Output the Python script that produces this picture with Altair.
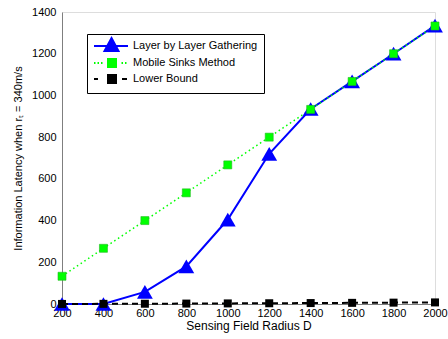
import altair as alt
import pandas as pd

D = [200, 400, 600, 800, 1000, 1200, 1400, 1600, 1800, 2000]
layer = [0, 0, 58, 180, 405, 720, 935, 1067, 1200, 1335]
mobile = [133, 267, 400, 533, 667, 800, 933, 1067, 1200, 1333]
lower = [0.3, 0.7, 1.3, 2.0, 2.8, 3.6, 4.5, 5.5, 6.5, 7.6]

names = ["Layer by Layer Gathering", "Mobile Sinks Method", "Lower Bound"]
colors = ["#0000ff", "#00ff00", "#000000"]

rows = []
for n, vals in zip(names, [layer, mobile, lower]):
    for d, v in zip(D, vals):
        rows.append({"D": d, "value": v, "series": n})
df = pd.DataFrame(rows)

FONT = "Liberation Sans"

xenc = alt.X("D:Q", scale=alt.Scale(domain=[200, 2000], nice=False),
             axis=alt.Axis(title="Sensing Field Radius D", values=D, format="d",
                           grid=False, tickSize=0, labelPadding=3, titlePadding=2,
                           labelFlush=False, labelBound=False, labelOverlap=False,
                           domainColor="#7f7f7f", labelFontSize=11, titleFontSize=12,
                           labelFont=FONT, titleFont=FONT, titleFontWeight="normal",
                           labelColor="#000", titleColor="#000"))
yenc = alt.Y("value:Q", scale=alt.Scale(domain=[0, 1400], nice=False),
             axis=alt.Axis(title="Information Latency when r\u209c = 340m/s",
                           values=[0, 200, 400, 600, 800, 1000, 1200, 1400], format="d",
                           grid=False, tickSize=0, labelPadding=6, titlePadding=8,
                           labelFlush=False, labelBound=False, labelOverlap=False,
                           domainColor="#7f7f7f", labelFontSize=11, titleFontSize=11,
                           labelFont=FONT, titleFont=FONT, titleFontWeight="normal",
                           labelColor="#000", titleColor="#000"))

base = alt.Chart(df)

def sel(n):
    return base.transform_filter(alt.datum.series == n)

l_line = sel(names[0]).mark_line(color=colors[0], strokeWidth=2).encode(x=xenc, y=yenc)
l_pts = sel(names[0]).mark_point(shape="triangle-up", filled=True, color=colors[0], size=250, opacity=1).encode(x="D:Q", y="value:Q")
m_line = sel(names[1]).mark_line(color=colors[1], strokeWidth=1.5, strokeDash=[1.5, 3]).encode(x="D:Q", y="value:Q")
m_pts = sel(names[1]).mark_square(filled=True, color=colors[1], size=64, opacity=1, stroke="#22bb22", strokeWidth=0.6).encode(x="D:Q", y="value:Q")
b_line = sel(names[2]).mark_line(color=colors[2], strokeWidth=2, strokeDash=[6, 4]).encode(x="D:Q", y="value:Q")
b_pts = sel(names[2]).mark_square(filled=True, color=colors[2], size=64, opacity=1).encode(x="D:Q", y="value:Q")

paths = [
    "M-1,0H5.8M2.5,-1.6L3.9,1L1.1,1Z",
    "M-1,0H-0.7M-0.3,0H0M0.4,0H0.7M1.8,-0.8H3.4V0.8H1.8ZM4.5,0H4.8M5.2,0H5.5",
    "M-1,0H-0.2M1.8,-0.8H3.4V0.8H1.8ZM4.6,0H5.6",
]

legend = alt.Legend(title=None, orient="none", legendX=25, legendY=22,
                    strokeColor="#000", fillColor="#fff", padding=6,
                    symbolSize=100, symbolStrokeWidth=2, symbolOpacity=1,
                    labelOffset=28, labelFontSize=11, labelFont=FONT, labelColor="#000",
                    rowPadding=0, cornerRadius=0, labelLimit=300)

leg = base.transform_filter(alt.datum.value < -1e9).mark_point(filled=False).encode(
    x="D:Q", y="value:Q",
    stroke=alt.Stroke("series:N", scale=alt.Scale(domain=names, range=colors), legend=legend),
    fill=alt.Fill("series:N", scale=alt.Scale(domain=names, range=colors), legend=legend),
    shape=alt.Shape("series:N", scale=alt.Scale(domain=names, range=paths), legend=legend),
)

chart = alt.layer(l_line, m_line, b_line, l_pts, m_pts, b_pts, leg).properties(
    width=373, height=292,
    autosize=alt.AutoSizeParams(type="none"),
    padding={"left": 62, "top": 12, "right": 13, "bottom": 35},
).configure_view(stroke=None).configure(background="#ffffff")

chart.save("out.html", embed_options={"renderer": "svg", "actions": False})
